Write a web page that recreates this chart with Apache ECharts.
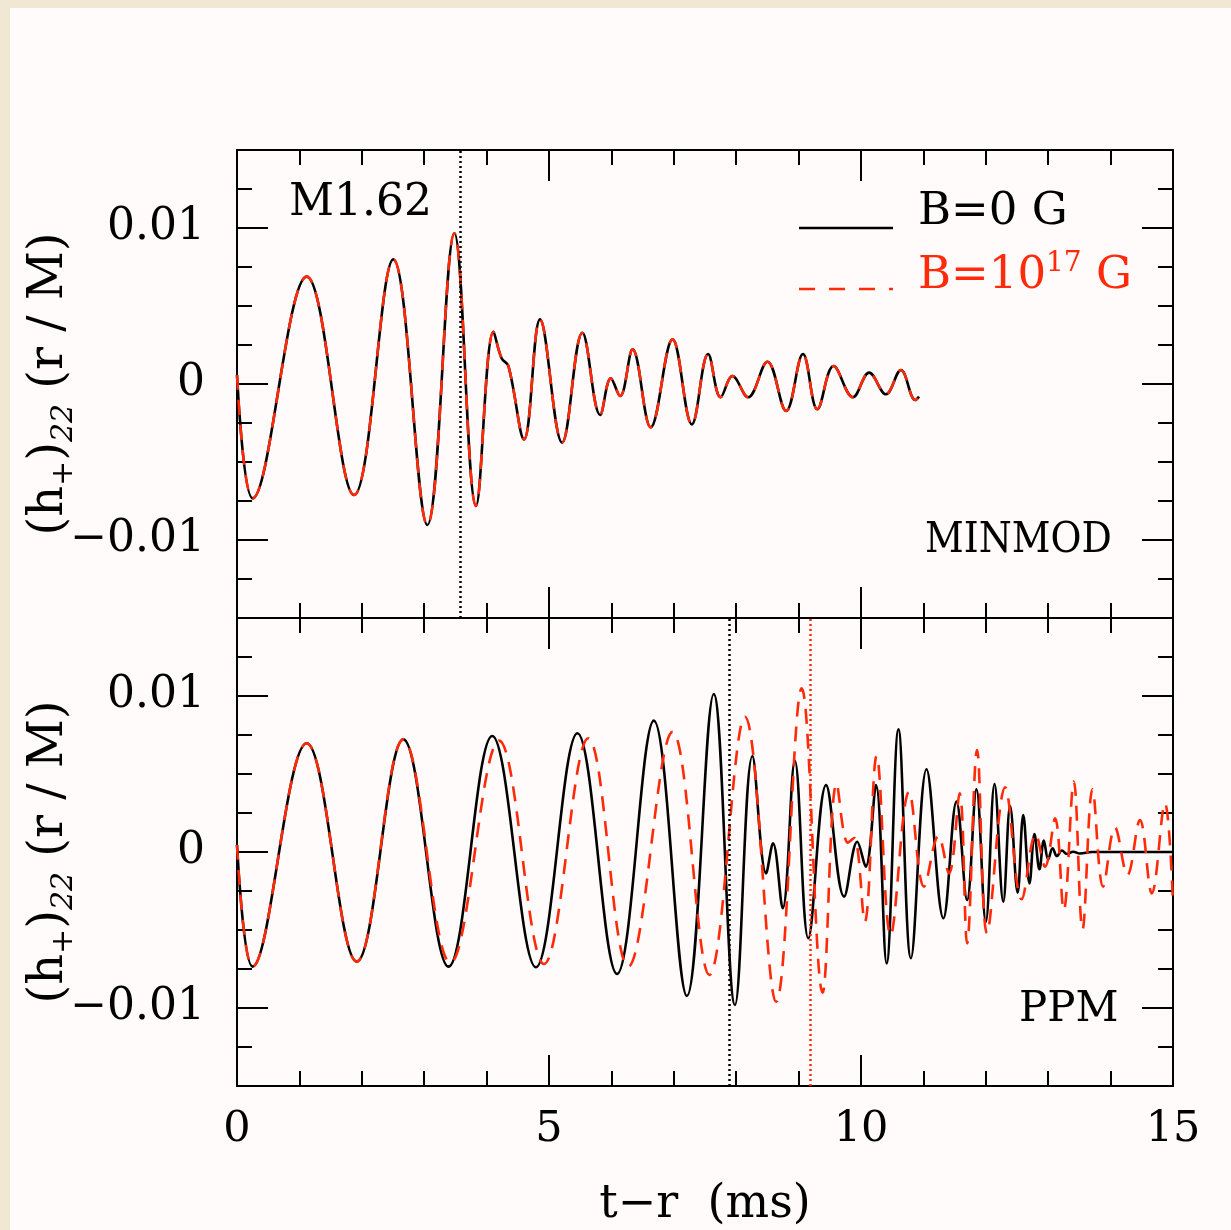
<!DOCTYPE html>
<html><head><meta charset="utf-8">
<script src="https://cdn.jsdelivr.net/npm/echarts@6/dist/echarts.min.js"></script>
<style>html,body{margin:0;padding:0;background:#fffbfa}#c{width:1231px;height:1230px}</style>
</head><body><div id="c"></div>
<script>
// ---- data (turning points of each waveform) ----
const topB0 = [[0,0.00058],[0.25,-0.00733],[1.117,0.00688],[1.875,-0.00712],[2.505,0.00799],[3.05,-0.00904],[3.483,0.00966],[3.83,-0.00782],[4.11,0.00335],[4.24,0.00165],[4.35,0.00115],[4.60,-0.00355],[4.856,0.00414],[5.21,-0.00376],[5.535,0.00329],[5.82,-0.00199],[5.99,0.00036],[6.14,-0.00077],[6.34,0.00222],[6.63,-0.00278],[6.98,0.00286],[7.29,-0.00259],[7.55,0.00192],[7.75,-0.00085],[7.94,0.00051],[8.19,-0.00085],[8.50,0.00143],[8.80,-0.00173],[9.07,0.00192],[9.30,-0.00162],[9.56,0.00115],[9.87,-0.00085],[10.13,0.00073],[10.40,-0.00066],[10.64,0.0009],[10.87,-0.00103],[10.93,-0.00081]];
const topB17 = topB0.map(p => p.slice()); // curves coincide in the MINMOD panel
const botB0 = [[0,0.00045],[0.25,-0.00735],[1.117,0.00697],[1.92,-0.00703],[2.665,0.00722],[3.39,-0.00735],[4.09,0.00744],[4.79,-0.00739],[5.455,0.00761],[6.09,-0.00782],[6.68,0.00842],[7.21,-0.00923],[7.64,0.01013],[7.98,-0.00981],[8.26,0.00615],[8.48,-0.00137],[8.59,0.00056],[8.745,-0.00361],[8.94,0.00585],[9.155,-0.00553],[9.44,0.00429],[9.73,-0.00286],[9.94,0.00066],[10.075,-0.00094],[10.24,0.00429],[10.41,-0.00714],[10.60,0.00786],[10.80,-0.00681],[11.05,0.0053],[11.32,-0.00425],[11.53,0.00323],[11.70,-0.00308],[11.85,0.00402],[12.00,-0.00447],[12.14,0.00436],[12.28,-0.00318],[12.39,0.00295],[12.51,-0.00261],[12.60,0.00237],[12.70,-0.00201],[12.78,0.00115],[12.86,-0.00111],[12.93,0.00073],[13.00,-0.00047],[13.07,0.00024],[13.14,-0.00026],[13.22,0.0001],[13.30,-0.00013],[13.40,0.00002],[13.51,-0.0001],[13.7,0],[14.5,0],[15,0]];
const botB17 = [[0,0.00045],[0.25,-0.00735],[1.117,0.00697],[1.92,-0.00703],[2.665,0.00722],[3.42,-0.0071],[4.20,0.00714],[4.92,-0.00718],[5.63,0.00729],[6.27,-0.00735],[6.98,0.0077],[7.57,-0.00788],[8.14,0.00867],[8.64,-0.0096],[9.05,0.01049],[9.385,-0.00902],[9.61,0.0044],[9.79,0.0006],[9.89,0.0009],[10.06,-0.00447],[10.25,0.00615],[10.475,-0.00532],[10.77,0.00387],[11.01,-0.00222],[11.24,0.00103],[11.41,-0.00137],[11.58,0.00376],[11.70,-0.00585],[11.86,0.00654],[12.02,-0.00521],[12.31,0.00415],[12.575,-0.00303],[12.80,0.00115],[12.95,-0.00094],[13.11,0.00216],[13.25,-0.00372],[13.41,0.00451],[13.55,-0.00496],[13.71,0.00402],[13.88,-0.00222],[14.07,0.00158],[14.27,-0.00147],[14.47,0.00205],[14.66,-0.00265],[14.87,0.00312],[15,-0.00329]];
const topMergerB0 = 3.574;
const botMergerB0 = 7.89;
const botMergerB17 = 9.18;
const yMajorTicks = [-0.01, 0, 0.01];
const xRange = [0, 15];
const yRange = [-0.015, 0.015];

// ---- styling ----
const FONT = 'DejaVu Serif';
const BLACK = '#000000';
const RED = '#ff2a0a';
const AX = {color: '#000', width: 2};

function xAxis(grid, pos, labels) {
  const a = {
    type: 'value', gridIndex: grid, position: pos, min: xRange[0], max: xRange[1], interval: 5,
    axisLine: {show: true, onZero: false, lineStyle: AX},
    axisTick: {show: true, inside: true, length: 31, lineStyle: AX},
    minorTick: {show: true, splitNumber: 5, length: 15, lineStyle: AX},
    splitLine: {show: false}, minorSplitLine: {show: false},
    axisLabel: {show: labels, margin: 22, fontFamily: FONT, fontSize: 43, color: '#000',
      showMinLabel: true, showMaxLabel: true}
  };
  if (labels) {
    a.name = 't\u2212r  (ms)';
    a.nameLocation = 'middle';
    a.nameGap = 96;
    a.nameMoveOverlap = false;
    a.nameTextStyle = {fontFamily: FONT, fontSize: 46, color: '#000'};
  }
  return a;
}
function yMinor(grid, pos) {
  return {
    type: 'value', gridIndex: grid, position: pos, min: yRange[0], max: yRange[1], interval: 0.0025,
    axisLine: {show: true, onZero: false, lineStyle: AX},
    axisTick: {show: true, inside: true, length: 15, lineStyle: AX},
    axisLabel: {show: false}, splitLine: {show: false}
  };
}
function yMajor(grid, pos, labels) {
  const a = {
    type: 'value', gridIndex: grid, position: pos, min: yRange[0], max: yRange[1], interval: 0.0025,
    axisLine: {show: false, onZero: false},
    axisTick: {show: true, inside: true, length: 31, lineStyle: AX, customValues: yMajorTicks},
    axisLabel: {show: labels, customValues: yMajorTicks, margin: 32, fontFamily: FONT, fontSize: 44, color: '#000',
      formatter: v => Math.abs(v) < 1e-9 ? '0' : (v < 0 ? '\u2212' + Math.abs(v).toFixed(2) : v.toFixed(2))},
    splitLine: {show: false}
  };
  if (labels) {
    a.name = '{n|(h}{s|+}{n|)}{i|22}{n| (r / M)}';
    a.nameLocation = 'middle';
    a.nameRotate = 90;
    a.nameGap = 158;
    a.nameMoveOverlap = false;
    a.nameTextStyle = {
      fontFamily: FONT, fontSize: 48, color: '#000',
      rich: {
        n: {fontFamily: FONT, fontSize: 48, color: '#000', lineHeight: 58},
        s: {fontFamily: FONT, fontSize: 30, color: '#000', lineHeight: 58, verticalAlign: 'bottom'},
        i: {fontFamily: FONT, fontSize: 30, fontStyle: 'italic', color: '#000', lineHeight: 58, verticalAlign: 'bottom'}
      }
    };
  }
  return a;
}
function pairs(arr) { return arr.map(p => [p[0], p[1]]); }
function vline(x, color) {
  return {silent: true, symbol: 'none', animation: false, label: {show: false},
    lineStyle: {color: color, type: [2, 3], width: 2.5}, data: [{xAxis: x}]};
}
function lineSeries(xi, yi, data, color, dashed, z, mark) {
  const s = {
    type: 'line', xAxisIndex: xi, yAxisIndex: yi, data: pairs(data),
    showSymbol: false, symbol: 'none', smooth: 0.38, z: z, silent: true,
    lineStyle: {color: color, width: 2.6, type: dashed ? [15, 10] : 'solid'}
  };
  if (mark) s.markLine = mark;
  return s;
}

const chart = echarts.init(document.getElementById('c'), null, {renderer: 'canvas'});
chart.setOption({
  animation: false,
  backgroundColor: '#fffbfa',
  grid: [
    {left: 237, top: 150, width: 936, height: 468, containLabel: false, outerBoundsMode: 'none'},
    {left: 237, top: 618, width: 936, height: 468, containLabel: false, outerBoundsMode: 'none'}
  ],
  xAxis: [xAxis(0, 'bottom', false), xAxis(0, 'top', false), xAxis(1, 'bottom', true), xAxis(1, 'top', false)],
  yAxis: [yMinor(0, 'left'), yMajor(0, 'left', true), yMinor(0, 'right'), yMajor(0, 'right', false),
          yMinor(1, 'left'), yMajor(1, 'left', true), yMinor(1, 'right'), yMajor(1, 'right', false)],
  series: [
    lineSeries(0, 0, topB0, BLACK, false, 3, vline(topMergerB0, '#000')),
    lineSeries(0, 0, topB17, RED, true, 4),
    lineSeries(2, 4, botB0, BLACK, false, 3, vline(botMergerB0, '#000')),
    lineSeries(2, 4, botB17, RED, true, 4, vline(botMergerB17, RED))
  ],
  graphic: [
    {type: 'rect', left: 0, top: 0, shape: {width: 1231, height: 8}, style: {fill: '#f0e8d2'}, silent: true},
    {type: 'rect', left: 0, top: 0, shape: {width: 10, height: 1230}, style: {fill: '#f0e8d2'}, silent: true},
    {type: 'text', left: 289, top: 182, style: {text: 'M1.62', font: '44px "DejaVu Serif"', fill: '#000'}},
    {type: 'text', x: 925, y: 520, scaleX: 0.9, style: {text: 'MINMOD', font: '42px "DejaVu Serif"', fill: '#000'}},
    {type: 'text', left: 1019, top: 989, style: {text: 'PPM', font: '42px "DejaVu Serif"', fill: '#000'}},
    {type: 'line', shape: {x1: 799, y1: 228, x2: 893, y2: 228}, style: {stroke: '#000', lineWidth: 2.5}},
    {type: 'line', shape: {x1: 799, y1: 289, x2: 893, y2: 289}, style: {stroke: RED, lineWidth: 2.5, lineDash: [16, 14]}},
    {type: 'text', left: 918, top: 190, style: {text: 'B=0 G', font: '45px "DejaVu Serif"', fill: '#000'}},
    {type: 'text', left: 918, top: 250, style: {
      text: '{r|B=10}{p|17}{r| G}', fill: RED,
      rich: {
        r: {fontFamily: FONT, fontSize: 45, fill: RED, lineHeight: 52},
        p: {fontFamily: FONT, fontSize: 28, fill: RED, lineHeight: 52, verticalAlign: 'top'}
      }
    }}
  ]
});
</script>
</body></html>
